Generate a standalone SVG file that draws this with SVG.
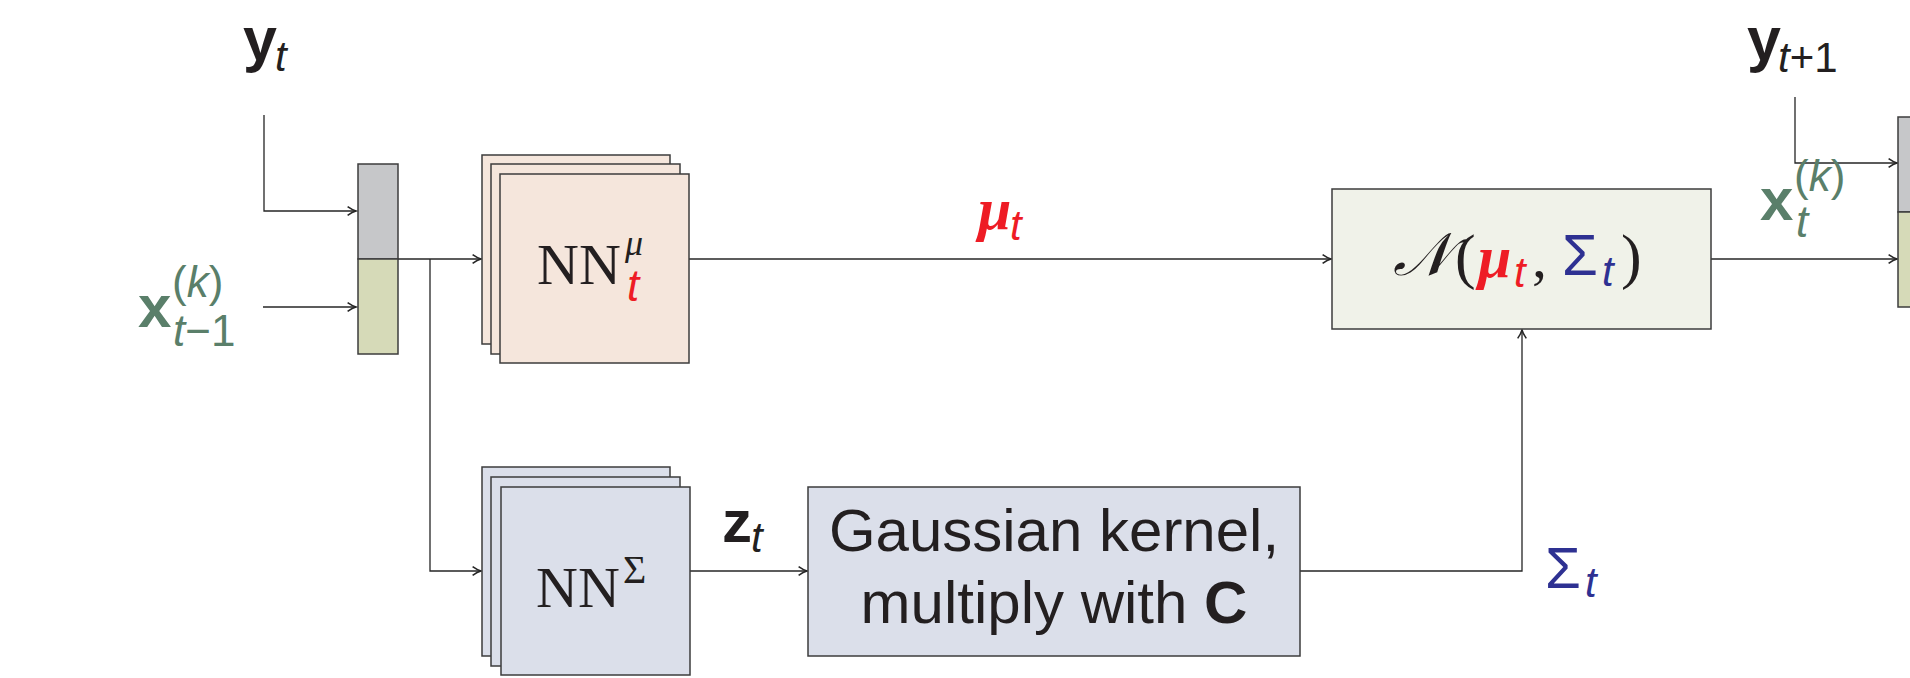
<svg xmlns="http://www.w3.org/2000/svg" width="1910" height="678" viewBox="0 0 1910 678">
<style>
.ln{stroke:#262626;stroke-width:1.3;fill:none}
.bx{stroke:#3c3c3c;stroke-width:1.5}
.sans{font-family:"Liberation Sans",Arial,sans-serif}
.serif{font-family:"Liberation Serif","Times New Roman",serif}
.it{font-style:italic}
.b{font-weight:bold}
.ink{fill:#231f20}
.grn{fill:#5a7f6a}
.red{fill:#ee1c25}
.blu{fill:#2e3192}
.mu{fill:#f5e6dc}
.sg{fill:#dbdfea}
</style>
<defs>
<marker id="ar" markerUnits="userSpaceOnUse" markerWidth="12" markerHeight="12" viewBox="-8 -5 10 10" refX="0" refY="0" orient="auto">
<path d="M-7,-3.6 Q-3,-0.8 0,0 Q-3,0.8 -7,3.6" fill="none" stroke="#262626" stroke-width="1.3"/>
</marker>
</defs>
<rect width="1910" height="678" fill="#fff"/>

<g id="connectors">
<path class="ln" d="M264,115 V211 H356" marker-end="url(#ar)"/>
<path class="ln" d="M263,307 H356" marker-end="url(#ar)"/>
<path class="ln" d="M398,259 H481" marker-end="url(#ar)"/>
<path class="ln" d="M430,259 V571 H481" marker-end="url(#ar)"/>
<path class="ln" d="M689,259 H1331" marker-end="url(#ar)"/>
<path class="ln" d="M1711,259 H1897" marker-end="url(#ar)"/>
<path class="ln" d="M1795,97 V163 H1897" marker-end="url(#ar)"/>
<path class="ln" d="M689,571 H807" marker-end="url(#ar)"/>
<path class="ln" d="M1300,571 H1522 V330" marker-end="url(#ar)"/>
</g>

<g id="label-yt">
<text class="sans b ink" x="243" y="60" font-size="61">y</text>
<text class="sans it ink" x="275" y="71" font-size="42">t</text>
</g>

<g id="label-xtm1" class="grn">
<text class="sans b" x="138" y="327" font-size="60">x</text>
<text class="sans" x="172" y="297" font-size="44">(<tspan class="it">k</tspan>)</text>
<text class="sans" x="173" y="346" font-size="44"><tspan class="it">t</tspan>−1</text>
</g>

<g id="input-column">
<rect class="bx" x="358" y="164" width="40" height="95" fill="#c6c7c9"/>
<rect class="bx" x="358" y="259" width="40" height="95" fill="#d6dab8"/>
</g>

<g id="nn-mu">
<rect class="bx mu" x="482" y="155" width="188" height="189"/>
<rect class="bx mu" x="491" y="164" width="189" height="190"/>
<rect class="bx mu" x="500" y="174" width="189" height="189"/>
<text class="serif ink" x="537" y="284" font-size="58">NN</text>
<text class="serif it ink" x="625" y="255" font-size="36">μ</text>
<text class="sans it red" x="627" y="301" font-size="44">t</text>
</g>

<g id="label-mut">
<text class="serif b it red" x="978" y="229" font-size="60">μ</text>
<text class="sans it red" x="1010" y="240" font-size="42">t</text>
</g>

<g id="normal">
<rect class="bx" x="1332" y="189" width="379" height="140" fill="#f0f2e9"/>
<text class="serif it ink" x="1393" y="275" font-size="60">𝒩</text>
<text class="serif ink" x="1455" y="277" font-size="62">(</text>
<text class="serif b it red" x="1478" y="277" font-size="60">μ</text>
<text class="sans it red" x="1514" y="287" font-size="42">t</text>
<text class="serif ink" x="1532" y="277" font-size="60">,</text>
<text class="sans blu" x="1562" y="275" font-size="58">Σ</text>
<text class="sans it blu" x="1602" y="286" font-size="42">t</text>
<text class="serif ink" x="1621" y="277" font-size="62">)</text>
</g>

<g id="label-yt1">
<text class="sans b ink" x="1747" y="60" font-size="61">y</text>
<text class="sans ink" x="1778" y="72" font-size="42"><tspan class="it">t</tspan>+1</text>
</g>

<g id="label-xt" class="grn">
<text class="sans b" x="1760" y="220" font-size="60">x</text>
<text class="sans" x="1794" y="191" font-size="44">(<tspan class="it">k</tspan>)</text>
<text class="sans it" x="1796" y="237" font-size="44">t</text>
</g>

<g id="output-column">
<rect class="bx" x="1898" y="117" width="40" height="95" fill="#c6c7c9"/>
<rect class="bx" x="1898" y="212" width="40" height="95" fill="#d6dab8"/>
</g>

<g id="nn-sigma">
<rect class="bx sg" x="482" y="467" width="188" height="189"/>
<rect class="bx sg" x="491" y="477" width="189" height="189"/>
<rect class="bx sg" x="501" y="487" width="189" height="188"/>
<text class="serif ink" x="536" y="607" font-size="58">NN</text>
<text class="serif ink" x="623" y="583" font-size="40">Σ</text>
</g>

<g id="label-zt">
<text class="sans b ink" x="722" y="542" font-size="60">z</text>
<text class="sans it ink" x="751" y="552" font-size="42">t</text>
</g>

<g id="gaussian">
<rect class="bx sg" x="808" y="487" width="492" height="169"/>
<text class="sans ink" x="1054" y="551" font-size="60" text-anchor="middle">Gaussian kernel,</text>
<text class="sans ink" x="1054" y="623" font-size="60" text-anchor="middle">multiply with <tspan class="b">C</tspan></text>
</g>

<g id="label-sigmat">
<text class="sans blu" x="1545" y="588" font-size="58">Σ</text>
<text class="sans it blu" x="1585" y="597" font-size="42">t</text>
</g>
</svg>
